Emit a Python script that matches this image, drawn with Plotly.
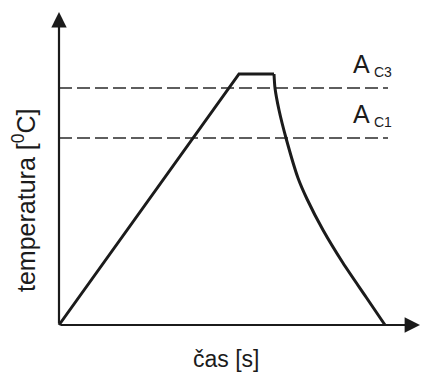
import plotly.graph_objects as go

# Heat-treatment cycle (arbitrary units)
time_heat = [0, 180]
temp_heat = [0, 251]
time_hold = [180, 215]
temp_hold = [251, 251]
time_cool = [215, 216, 220, 227, 239, 248, 264, 284, 307, 326]
temp_cool = [251, 237, 215, 187, 147, 126, 95, 62, 28, 0]

ac3_temp = 237
ac1_temp = 187
line_x_end = 329
x_axis_end = 361
y_axis_end = 313

labels = {"x": "čas [s]", "y": "temperatura [<sup>0</sup>C]",
          "A": "A", "ac3": "C3", "ac1": "C1"}

FONT = "Liberation Sans, Arial, sans-serif"
INK = "#1b1b1b"

fig = go.Figure()

for t in (ac3_temp, ac1_temp):
    fig.add_trace(go.Scatter(x=[0, line_x_end], y=[t, t], mode="lines",
                             line=dict(color="#2a2a2a", width=1.5, dash="13px,5px"),
                             hoverinfo="skip", showlegend=False))

hx = time_heat + time_hold[1:]
hy = temp_heat + temp_hold[1:]
fig.add_trace(go.Scatter(x=hx, y=hy, mode="lines",
                         line=dict(color=INK, width=3, shape="linear"),
                         showlegend=False, hoverinfo="skip"))
fig.add_trace(go.Scatter(x=time_cool, y=temp_cool, mode="lines",
                         line=dict(color=INK, width=3, shape="spline", smoothing=0.7),
                         showlegend=False, hoverinfo="skip"))

# axes with arrows
fig.add_annotation(x=x_axis_end, y=0, ax=0, ay=0, xref="x", yref="y", axref="x", ayref="y",
                   text="", showarrow=True, arrowhead=2, arrowsize=1.4, arrowwidth=2.2,
                   arrowcolor=INK)
fig.add_annotation(x=0, y=y_axis_end, ax=0, ay=0, xref="x", yref="y", axref="x", ayref="y",
                   text="", showarrow=True, arrowhead=2, arrowsize=1.4, arrowwidth=2.2,
                   arrowcolor=INK)

for temp, sub in ((ac3_temp, labels["ac3"]), (ac1_temp, labels["ac1"])):
    fig.add_annotation(x=292, y=temp + 24, xref="x", yref="y", text=labels["A"],
                       showarrow=False, xanchor="left", yanchor="middle",
                       font=dict(family=FONT, size=25, color=INK))
    fig.add_annotation(x=313, y=temp + 16, xref="x", yref="y", text=sub,
                       showarrow=False, xanchor="left", yanchor="middle",
                       font=dict(family=FONT, size=14, color=INK))

fig.add_annotation(x=226 / 421, y=(377 - 359) / 377, xref="paper", yref="paper",
                   text=labels["x"], showarrow=False, xanchor="center", yanchor="middle",
                   font=dict(family=FONT, size=23, color=INK))
fig.add_annotation(x=24 / 421, y=(377 - 201) / 377, xref="paper", yref="paper",
                   text=labels["y"], showarrow=False, textangle=-90,
                   xanchor="center", yanchor="middle",
                   font=dict(family=FONT, size=25, color=INK))

fig.update_xaxes(visible=False, range=[-59, 362], domain=[0, 1], fixedrange=True)
fig.update_yaxes(visible=False, range=[-52, 325], domain=[0, 1], fixedrange=True)
fig.update_layout(width=421, height=377, margin=dict(l=0, r=0, t=0, b=0),
                  paper_bgcolor="white", plot_bgcolor="white")

fig.write_html("out.html", config={"displayModeBar": False},
               post_script="document.body.style.margin='0px';document.body.style.overflow='hidden';")
